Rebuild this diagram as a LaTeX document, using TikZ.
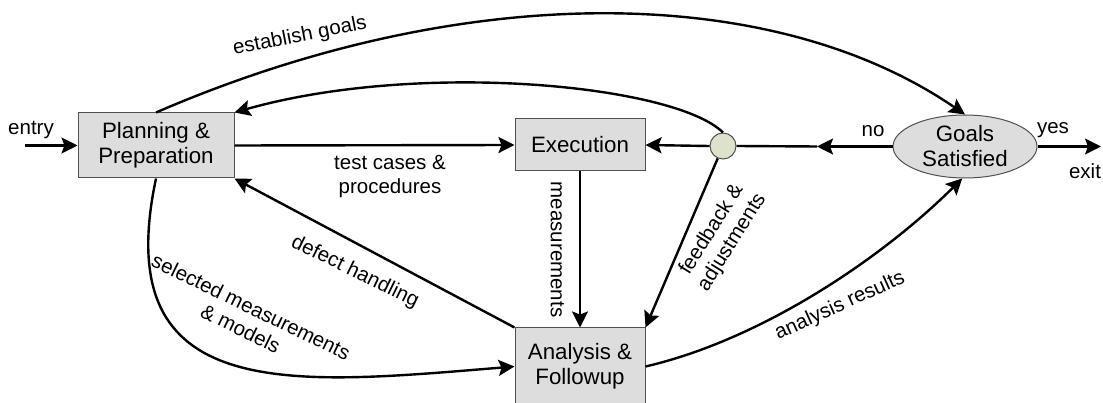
\documentclass[tikz,border=0pt]{standalone}
\usepackage{fontspec}
\setmainfont{Liberation Sans}
\usetikzlibrary{arrows.meta,shapes.geometric}
\definecolor{boxgray}{HTML}{DDDDDD}
\definecolor{dotgreen}{HTML}{DCE2CC}
\definecolor{edgegray}{HTML}{505050}

\begin{document}
\begin{tikzpicture}[x=1pt,y=-1pt,
  stagebox/.style={draw=edgegray, line width=1pt, fill=boxgray, inner sep=0pt,
    align=center, font=\fontsize{22.3}{25}\selectfont},
  flow/.style={line width=2.4pt, -{Stealth[length=16pt,width=16pt,inset=3pt]}},
  plain/.style={line width=2.4pt},
  lbl/.style={inner sep=0pt, align=center, font=\fontsize{20.5}{24}\selectfont}]
\useasboundingbox (0,0) rectangle (1103,403);

% stages
\node[stagebox, minimum width=156pt, minimum height=65pt] (plan) at (156,145.5) {Planning \&\\Preparation};
\node[stagebox, minimum width=130pt, minimum height=52pt] (exe) at (580,145) {Execution};
\node[stagebox, minimum width=130pt, minimum height=77pt] (ana) at (580,366.5) {Analysis \&\\Followup};
\node[stagebox, ellipse, minimum width=144pt, minimum height=63pt] (goals) at (965,146.5) {};
\node[inner sep=0pt, align=center, font=\fontsize{22.3}{25}\selectfont] (goalstext) at (goals.center) {Goals\\Satisfied};
\node[circle, draw=edgegray, line width=1pt, fill=dotgreen, minimum size=26pt, inner sep=0pt] (fb) at (723,146) {};

% free ends
\coordinate (entrypt) at (25,145.5);
\coordinate (exitpt) at (1101,146.5);
\coordinate (nomid) at (817,146.5);

% connectors
\draw[flow] (entrypt) -- (plan.west);
\draw[flow] (plan.east) -- (exe.west);
\draw[flow] (exe.south) -- (ana.north);
\draw[flow] (fb.west) -- (exe.east);
\draw[flow] (goals.west) -- (nomid);
\draw[plain] (nomid) -- (fb.east);
\draw[flow] (goals.east) -- (exitpt);
\draw[flow] (fb) -- (ana.north east);
\draw[flow] (ana.north west) -- (plan.south east);
\draw[flow] (plan.north) .. controls (460,-19) and (770,-19) .. (goals.north);
\draw[flow] (fb.north) .. controls (675,85) and (420,60) .. (plan.north east);
\draw[flow] (plan.south) .. controls (108,405) and (290,385) .. (ana.west);
\draw[flow] (ana.east) .. controls (760,340) and (880,260) .. (goals.265);

% labels
\node[lbl] (lentry) at (31,130) {entry};
\node[lbl, rotate=11] (lgoals) at (300,36.5) {establish goals};
\node[lbl] (ltest) at (390,177) {test cases \&\\procedures};
\node[lbl, rotate=-90] (lmeas) at (557.5,249.5) {measurements};
\node[lbl, rotate=58] (lfeed) at (722,236) {feedback \&\\adjustments};
\node[lbl, rotate=-26] (ldefect) at (355,272) {defect handling};
\node[lbl, rotate=-26] (lsel) at (246,317.5) {selected measurements\\\& models};
\node[lbl, rotate=24.5] (lres) at (840,306) {analysis results};
\node[lbl] (lno) at (873,131) {no};
\node[lbl] (lyes) at (1053,130) {yes};
\node[lbl] (lexit) at (1085,171) {exit};
\end{tikzpicture}
\end{document}
